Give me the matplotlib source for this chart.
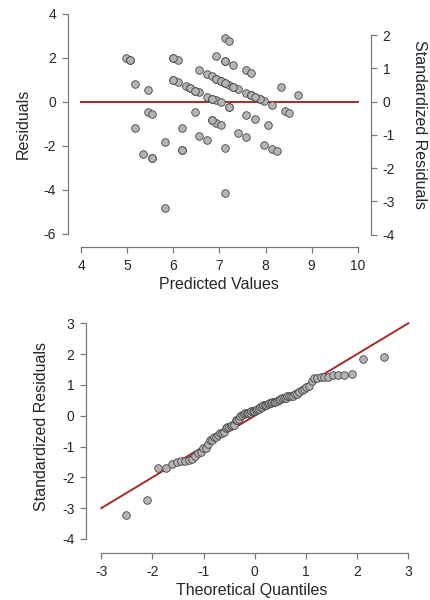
import numpy as np
import matplotlib
matplotlib.use('Agg')
import matplotlib.pyplot as plt
from statistics import NormalDist

plt.rcParams['font.family'] = ['Liberation Sans', 'DejaVu Sans']
plt.rcParams['axes.unicode_minus'] = False

# residuals vs predicted values (a few points overlap exactly)
predicted = [4.978, 5.065, 5.159, 5.442, 5.442, 5.536, 5.159, 5.348, 5.536, 5.819,
             5.819, 6.000, 6.094, 6.000, 6.094, 6.268, 6.370, 6.471, 6.558, 6.188,
             6.188, 6.464, 6.558, 6.558, 6.739, 6.739, 6.833, 6.928, 7.022, 7.116,
             7.210, 7.304, 7.399, 6.739, 6.833, 6.928, 7.022, 7.210, 6.928, 7.116,
             7.304, 7.109, 7.210, 6.833, 6.928, 7.022, 7.116, 7.116, 7.399, 7.580,
             7.580, 7.681, 7.580, 7.681, 7.775, 7.870, 7.964, 8.145, 7.580, 7.775,
             8.051, 7.957, 8.145, 8.239, 8.326, 8.420, 8.514, 8.703,
             # hidden duplicates
             5.536, 6.188, 6.833, 7.210, 6.928, 7.022, 7.116, 7.304, 6.370, 6.471,
             7.681, 7.870, 6.833, 6.000, 6.000, 5.065, 7.116, 7.775]
residuals = [2.00, 1.91, 0.82, 0.54, -0.46, -0.56, -1.18, -2.38, -2.55, -1.83,
             -4.85, 1.97, 1.88, 0.98, 0.89, 0.70, 0.60, 0.50, 0.42, -1.20,
             -2.20, -0.49, 1.44, -1.58, -1.76, 1.24, 1.15, 1.04, 0.95, 0.86,
             0.77, 0.68, 0.57, 0.23, 0.13, 0.06, -0.03, -0.23, 2.06, 1.86,
             1.68, 2.88, 2.77, -0.85, -0.96, -1.05, -2.12, -4.14, -1.41, -1.59,
             1.42, 1.30, 0.41, 0.32, 0.23, 0.12, 0.03, -0.17, -0.61, -0.79,
             -1.06, -1.97, -2.15, -2.26, 0.65, -0.44, -0.53, 0.29,
             -2.55, -2.20, -0.85, -0.23, 1.04, 0.95, 0.86, 0.68, 0.60, 0.50,
             0.32, 0.12, 0.13, 0.98, 1.97, 1.91, 1.86, 0.23]
sigma = 1.51

pred = np.array(predicted)
res = np.array(residuals)
std_res = np.sort(res / sigma)
n = len(std_res)
theo = np.array([NormalDist().inv_cdf((i - 0.5) / n) for i in range(1, n + 1)])

W, H = 431, 600
fig = plt.figure(figsize=(W / 100, H / 100), dpi=100)

spcol = '#7a7a7a'
txtcol = '#262626'
redcol = '#a52a2a'
ptfill = '#b4b4b4'
ptedge = '#444444'
tickfs = 10
labfs = 11.5


def box(l, r, t, b):
    return [l / W, 1 - b / H, (r - l) / W, (b - t) / H]


def style(ax):
    ax.spines['top'].set_visible(False)
    ax.spines['right'].set_visible(False)
    for s in ax.spines.values():
        s.set_color(spcol)
        s.set_linewidth(0.9)
    ax.tick_params(direction='out', length=4.3, width=0.9, color=spcol,
                   labelsize=tickfs, labelcolor=txtcol, pad=4)
    ax.patch.set_alpha(0)


# ---- top: residuals vs predicted
ax1 = fig.add_axes(box(67.7, 371, 1, 247.3))
style(ax1)
ax1.scatter(pred, res, s=30, c=ptfill, edgecolors=ptedge, linewidths=0.6, zorder=3)
ax1.plot([4, 10], [0, 0], color=redcol, lw=1.4, zorder=2)
ax1.set_xlim(3.705, 10.289)
ax1.set_ylim(-6.618, 4.577)
ax1.set_xticks(range(4, 11))
ax1.set_yticks(range(-6, 5, 2))
ax1.spines['bottom'].set_bounds(4, 10)
ax1.spines['left'].set_bounds(-6, 4)
ax1.set_xlabel('Predicted Values', fontsize=labfs, color=txtcol, labelpad=3)
ax1.set_ylabel('Residuals', fontsize=labfs, color=txtcol, labelpad=9)

ax1r = ax1.twinx()
ax1r.set_ylim(-6.618 / sigma, 4.577 / sigma)
for s in ['top', 'left', 'bottom']:
    ax1r.spines[s].set_visible(False)
ax1r.spines['right'].set_color(spcol)
ax1r.spines['right'].set_linewidth(0.9)
ax1r.spines['right'].set_bounds(-4, 2)
ax1r.set_yticks(range(-4, 3))
ax1r.tick_params(direction='out', length=4.3, width=0.9, color=spcol,
                 labelsize=tickfs, labelcolor=txtcol, pad=4)
ax1r.set_ylabel('Standardized Residuals', fontsize=labfs, color=txtcol,
                rotation=270, va='bottom', labelpad=12)

# ---- bottom: Q-Q plot
ax2 = fig.add_axes(box(86, 417, 300, 553.3))
style(ax2)
ax2.plot([-3, 3], [-3, 3], color=redcol, lw=1.4, zorder=2)
ax2.scatter(theo, std_res, s=30, c=ptfill, edgecolors=ptedge, linewidths=0.6, zorder=3)
ax2.set_xlim(-3.299, 3.17)
ax2.set_ylim(-4.466, 3.755)
ax2.set_xticks(range(-3, 4))
ax2.set_yticks(range(-4, 4))
ax2.spines['bottom'].set_bounds(-3, 3)
ax2.spines['left'].set_bounds(-4, 3)
ax2.set_xlabel('Theoretical Quantiles', fontsize=labfs, color=txtcol, labelpad=3)
ax2.set_ylabel('Standardized Residuals', fontsize=labfs, color=txtcol, labelpad=9)

fig.savefig('out.png', dpi=100)
